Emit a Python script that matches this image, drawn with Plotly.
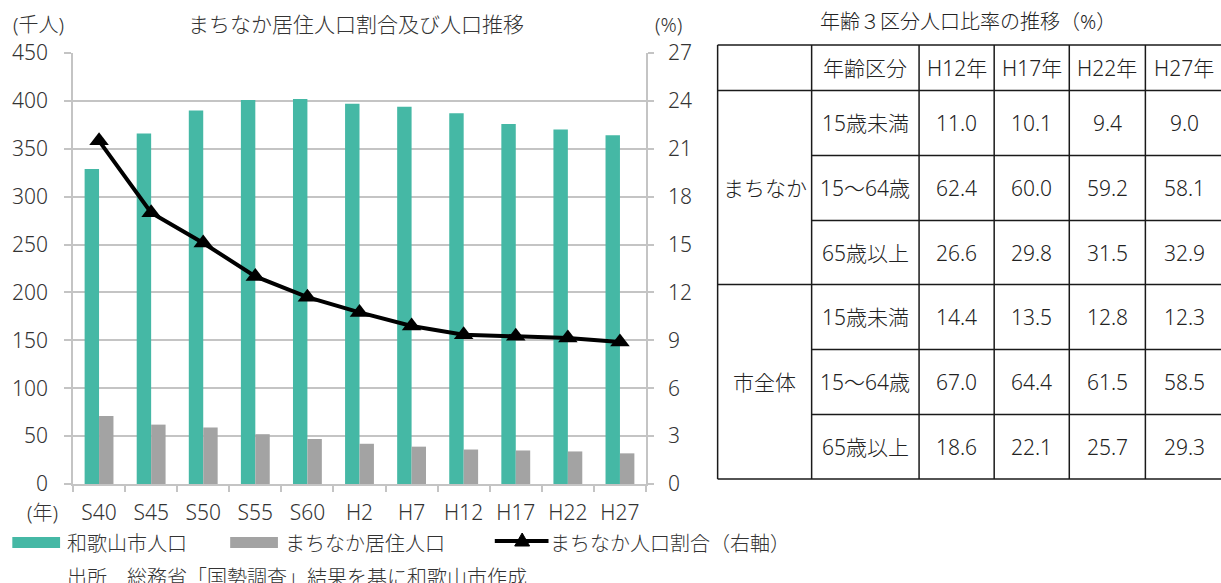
import plotly.graph_objects as go

# ---- data ----
years = ["S40", "S45", "S50", "S55", "S60", "H2", "H7", "H12", "H17", "H22", "H27"]
city_pop = [329, 366, 390, 401, 402, 397, 394, 387, 376, 370, 364]      # 和歌山市人口 (千人)
center_pop = [71, 62, 59, 52, 47, 42, 39, 36, 35, 34, 32]              # まちなか居住人口 (千人)
center_ratio = [21.5, 17.0, 15.1, 13.0, 11.7, 10.75, 9.9, 9.35, 9.25, 9.15, 8.9]  # まちなか人口割合 (%)

table_years = ["H12年", "H17年", "H22年", "H27年"]
age_groups = ["15歳未満", "15～64歳", "65歳以上"]
areas = ["まちなか", "市全体"]
machinaka_vals = [[11.0, 10.1, 9.4, 9.0], [62.4, 60.0, 59.2, 58.1], [26.6, 29.8, 31.5, 32.9]]
city_vals = [[14.4, 13.5, 12.8, 12.3], [67.0, 64.4, 61.5, 58.5], [18.6, 22.1, 25.7, 29.3]]

TEAL = "#45B8A5"
GRAY = "#A3A3A3"
GRID = "#C4C4C4"
TXT = "#333333"
FONT = "Noto Sans, Noto Sans CJK JP, sans-serif"
WT = 300

W, H = 1221, 583
L, R, T, B = 70, 646, 53, 484   # plot area in page pixels


def X(px):
    return (px - L) / (R - L)


def Y(py):
    return (B - py) / (B - T)


fig = go.Figure()
fig.add_trace(go.Bar(x=years, y=city_pop, marker=dict(color=TEAL, line=dict(width=0)),
                     name="和歌山市人口", yaxis="y"))
fig.add_trace(go.Bar(x=years, y=center_pop, marker=dict(color=GRAY, line=dict(width=0)),
                     name="まちなか居住人口", yaxis="y"))
fig.add_trace(go.Scatter(x=years, y=center_ratio, mode="lines+markers",
                         line=dict(color="black", width=4),
                         marker=dict(symbol="triangle-up", size=17, color="black"),
                         name="まちなか人口割合（右軸）", yaxis="y2"))

tf = dict(size=21, color=TXT, family=FONT, weight=WT)
fig.update_layout(
    width=W, height=H,
    margin=dict(l=L, r=W - R, t=T, b=H - B),
    paper_bgcolor="white", plot_bgcolor="white",
    showlegend=False,
    barmode="group", bargap=0.446, bargroupgap=0,
    font=dict(family=FONT, size=21, color=TXT, weight=WT),
    xaxis=dict(type="category", range=[-0.5, len(years) - 0.5], showgrid=False,
               showline=True, linecolor=GRID, linewidth=1.5,
               ticks="outside", tickson="boundaries", ticklen=6, tickcolor=GRID, tickwidth=1.5,
               tickfont=tf, ticklabelstandoff=9),
    yaxis=dict(range=[0, 450], dtick=50, showgrid=True, gridcolor=GRID, gridwidth=1.5,
               showline=True, linecolor=GRID, linewidth=1.5, ticks="outside", ticklen=7,
               tickcolor=GRID, tickwidth=1.5, tickfont=tf,
               ticklabelstandoff=12, zeroline=False),
    yaxis2=dict(range=[0, 27], dtick=3, overlaying="y", side="right", showgrid=False,
                showline=True, linecolor=GRID, linewidth=1.5, ticks="outside", ticklen=6,
                tickcolor=GRID, tickwidth=1.5, tickfont=tf,
                ticklabelstandoff=10, zeroline=False),
)

ann = []
shapes = []


def text(px, py, s, size=21, anchor="center", color=TXT):
    ann.append(dict(x=X(px), y=Y(py), xref="paper", yref="paper", text=s, showarrow=False,
                    xanchor=anchor, yanchor="middle",
                    font=dict(size=size, color=color, family=FONT, weight=WT)))


# chart titles
text(354, 24, "まちなか居住人口割合及び人口推移", 21)
text(8, 24, "(千人)", 20, "left")
text(653, 24, "(%)", 20, "left")
text(22, 512, "(年)", 20, "left")

# legend
shapes.append(dict(type="rect", xref="paper", yref="paper", x0=X(9), x1=X(57), y0=Y(537), y1=Y(548),
                   fillcolor=TEAL, line=dict(width=0)))
text(62, 543, "和歌山市人口", 20, "left")
shapes.append(dict(type="rect", xref="paper", yref="paper", x0=X(228), x1=X(276), y0=Y(537), y1=Y(548),
                   fillcolor=GRAY, line=dict(width=0)))
text(281, 543, "まちなか居住人口", 20, "left")
shapes.append(dict(type="line", xref="paper", yref="paper", x0=X(494), x1=X(548), y0=Y(541), y1=Y(541),
                   line=dict(color="black", width=4)))
shapes.append(dict(type="path", xref="paper", yref="paper",
                   path=f"M {X(514)} {Y(546)} L {X(529)} {Y(546)} L {X(521.5)} {Y(533)} Z",
                   fillcolor="black", line=dict(color="black", width=1)))
text(547, 543, "まちなか人口割合（右軸）", 20, "left")
text(62, 577, "出所　総務省「国勢調査」結果を基に和歌山市作成", 20, "left")

# ---- table ----
TC = "#222222"
text(970, 22, "年齢３区分人口比率の推移（%）", 20, color=TC)
col_x = [718, 812.5, 920.5, 996, 1071.5, 1148, 1226]
row_y = [45, 90.5, 155.5, 220.5, 284.5, 349.5, 414.5, 479]


def hline(x0, x1, y):
    shapes.append(dict(type="line", xref="paper", yref="paper", x0=X(x0), x1=X(x1), y0=Y(y), y1=Y(y),
                       line=dict(color="#1a1a1a", width=1.5)))


def vline(x, y0, y1):
    shapes.append(dict(type="line", xref="paper", yref="paper", x0=X(x), x1=X(x), y0=Y(y0), y1=Y(y1),
                       line=dict(color="#1a1a1a", width=1.5)))


for x in col_x[:-1]:
    vline(x, row_y[0], row_y[-1])
for i, y in enumerate(row_y):
    if i in (0, 1, 4, 7):
        hline(col_x[0], col_x[-1], y)
    else:
        hline(col_x[1], col_x[-1], y)


def cx(i):
    return (col_x[i] + col_x[i + 1]) / 2


def cy(i):
    return (row_y[i] + row_y[i + 1]) / 2


text(cx(1), cy(0), "年齢区分", 21, color=TC)
for j, yl in enumerate(table_years):
    text(cx(2 + j), cy(0), yl, 21, color=TC)

for g, (area, vals) in enumerate(zip(areas, [machinaka_vals, city_vals])):
    r0 = 1 + 3 * g
    text(cx(0), (row_y[r0] + row_y[r0 + 3]) / 2, area, 21, color=TC)
    for k, age in enumerate(age_groups):
        text(cx(1), cy(r0 + k), age, 21, color=TC)
        for j, v in enumerate(vals[k]):
            text(cx(2 + j), cy(r0 + k), f"{v:.1f}", 21, color=TC)

fig.update_layout(annotations=ann, shapes=shapes)
fig.write_html("out.html", config={"displayModeBar": False},
               post_script="document.body.style.margin='0';document.body.style.overflow='hidden';")
